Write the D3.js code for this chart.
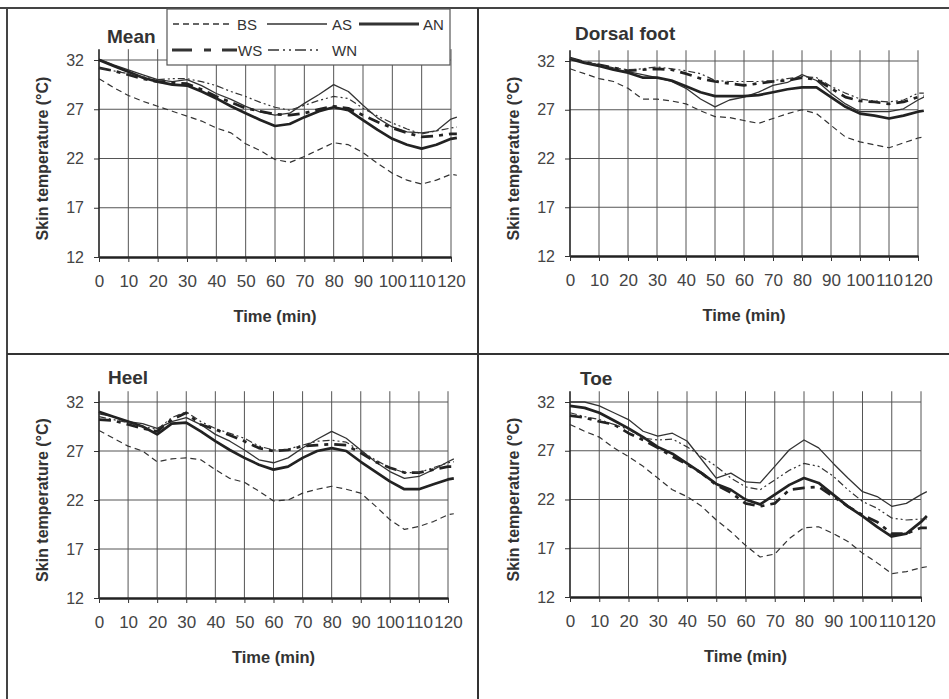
<!DOCTYPE html>
<html>
<head>
<meta charset="utf-8">
<script src="https://cdn.jsdelivr.net/npm/d3@7"></script>
<style>
  body { margin: 0; background: #fff; }
  svg { display: block; font-family: "Liberation Sans", Arial, sans-serif; }
</style>
</head>
<body>
<svg id="fig" width="949" height="699"></svg>
<script>
// time points (min)
var times = [0,5,10,15,20,25,30,35,40,45,50,55,60,65,70,75,80,85,90,95,100,105,110,115,120,122];
var xTicks = [0,10,20,30,40,50,60,70,80,90,100,110,120];
var yTicks = [12,17,22,27,32];
var seriesNames = ["BS","AS","AN","WS","WN"];

// Mean
var meanBS = [30.1,29.2,28.4,27.8,27.3,26.8,26.3,25.8,25.1,24.6,23.5,22.8,21.9,21.6,22.2,22.9,23.6,23.4,22.6,21.5,20.5,19.8,19.4,19.8,20.4,20.3];
var meanAS = [32.1,31.5,31.0,30.5,30.0,29.8,30.0,29.4,28.6,28.0,27.3,26.7,26.4,26.6,27.6,28.5,29.5,28.8,27.4,26.1,25.2,24.7,24.6,24.8,26.0,26.2];
var meanAN = [32.0,31.4,30.8,30.2,29.8,29.5,29.4,28.8,28.1,27.3,26.6,25.9,25.3,25.5,26.2,26.8,27.2,26.9,25.9,24.9,24.0,23.4,23.0,23.4,24.0,24.1];
var meanWS = [31.2,30.9,30.5,30.1,29.8,29.7,29.6,29.0,28.3,27.7,27.1,26.8,26.5,26.4,26.6,27.0,27.3,27.1,26.4,25.7,25.1,24.6,24.2,24.3,24.5,24.5];
var meanWN = [31.2,30.9,30.6,30.3,30.0,30.1,30.1,29.8,29.4,28.8,28.3,27.7,27.2,26.9,27.4,27.9,28.3,28.1,27.1,26.3,25.6,25.0,24.5,24.8,25.1,25.2];

// Dorsal foot
var dorsalBS = [31.2,30.7,30.2,29.9,29.2,28.1,28.1,27.9,27.6,26.9,26.3,26.2,25.9,25.6,26.1,26.6,27.0,26.6,25.4,24.2,23.7,23.4,23.1,23.6,24.1,24.2];
var dorsalAS = [32.3,31.9,31.6,31.2,30.9,30.6,30.3,29.9,29.2,28.1,27.3,28.0,28.3,28.8,29.5,29.8,30.6,30.0,28.7,27.6,26.8,26.8,26.8,27.1,28.0,28.3];
var dorsalAN = [32.2,31.8,31.5,31.1,30.8,30.3,30.3,30.0,29.4,28.8,28.4,28.4,28.4,28.5,28.8,29.1,29.3,29.3,28.3,27.3,26.6,26.4,26.1,26.4,26.8,26.9];
var dorsalWS = [32.3,31.9,31.6,31.3,31.0,31.1,31.2,31.1,30.7,30.2,29.9,29.7,29.5,29.7,29.9,30.0,30.3,30.1,29.2,28.3,27.9,27.8,27.6,27.8,28.3,28.4];
var dorsalWN = [32.3,31.9,31.6,31.3,31.1,31.2,31.4,31.2,31.0,30.7,30.0,29.9,29.9,29.9,30.0,30.2,30.4,30.3,29.4,28.7,28.1,27.9,27.8,28.0,28.7,28.7];

// Heel
var heelBS = [29.1,28.3,27.5,27.0,25.9,26.2,26.3,26.1,25.1,24.2,23.8,22.9,21.9,22.0,22.7,23.1,23.4,23.1,22.7,21.4,20.0,19.0,19.3,19.8,20.5,20.6];
var heelAS = [30.8,30.5,30.0,29.8,29.3,30.0,30.4,29.7,28.7,28.0,27.1,26.1,25.8,26.3,27.3,28.2,29.0,28.3,27.1,25.9,24.9,24.2,24.4,25.1,25.9,26.2];
var heelAN = [31.0,30.5,30.0,29.5,28.7,29.8,29.9,29.0,28.0,27.1,26.3,25.6,25.1,25.4,26.3,27.0,27.3,27.0,25.9,24.9,23.9,23.1,23.1,23.6,24.1,24.2];
var heelWS = [30.2,30.1,29.7,29.3,29.0,30.2,30.9,29.7,29.2,28.6,28.0,27.3,27.0,27.1,27.5,27.6,27.7,27.6,26.8,25.9,25.3,24.8,24.8,25.1,25.4,25.4];
var heelWN = [30.5,30.2,29.9,29.5,29.2,30.4,31.0,30.0,29.3,28.8,28.3,27.5,27.1,27.2,27.6,28.0,28.1,27.9,27.0,26.1,25.3,24.8,24.8,25.3,25.8,25.9];

// Toe
var toeBS = [29.7,29.0,28.4,27.3,26.4,25.4,24.2,23.0,22.3,21.3,19.9,18.7,17.3,16.1,16.4,18.0,19.1,19.2,18.5,17.7,16.5,15.5,14.4,14.6,15.0,15.1];
var toeAS = [32.0,32.0,31.6,30.9,30.2,29.0,28.5,28.8,28.0,26.1,24.2,24.7,23.8,23.7,25.4,27.1,28.1,27.3,25.7,24.2,22.8,22.3,21.3,21.6,22.5,22.8];
var toeAN = [31.6,31.4,30.9,30.1,29.3,28.4,27.4,26.7,25.7,24.7,23.6,23.0,22.0,21.5,22.5,23.5,24.2,23.7,22.5,21.3,20.3,19.2,18.2,18.5,19.7,20.3];
var toeWS = [30.6,30.4,30.0,29.7,28.8,28.1,27.3,26.4,25.6,24.7,23.5,22.7,21.6,21.3,21.6,23.0,23.2,23.3,22.3,21.3,20.4,19.7,18.5,18.5,19.1,19.1];
var toeWN = [30.9,30.5,30.2,29.7,29.2,28.3,28.1,28.2,27.4,26.4,25.4,24.2,23.3,23.0,24.0,25.0,25.7,25.4,24.4,23.0,21.8,21.1,20.1,19.9,20.0,20.0];

var panels = [
  {title: "Mean",        x0: 99,  x1: 451, yTop: 60,  yBot: 257, tdx: 8,  tdy: -17, legend: true,
   series: [meanBS, meanAS, meanAN, meanWS, meanWN]},
  {title: "Dorsal foot", x0: 570, x1: 918, yTop: 61,  yBot: 256, tdx: 5,  tdy: -21,
   series: [dorsalBS, dorsalAS, dorsalAN, dorsalWS, dorsalWN]},
  {title: "Heel",        x0: 99,  x1: 448, yTop: 402, yBot: 598, tdx: 9,  tdy: -18,
   series: [heelBS, heelAS, heelAN, heelWS, heelWN]},
  {title: "Toe",         x0: 570, x1: 921, yTop: 402, yBot: 597, tdx: 10, tdy: -17,
   series: [toeBS, toeAS, toeAN, toeWS, toeWN]}
];

// line styles per series (dash = in plot, ldash = in legend)
var styles = {
  BS: {w: 1.2, dash: "6,4",          ldash: "6,4"},
  AS: {w: 1.3, dash: null,           ldash: null},
  AN: {w: 2.7, dash: null,           ldash: null},
  WS: {w: 2.7, dash: "12,6,4,6",     ldash: "20,12,7,11"},
  WN: {w: 1.2, dash: "7,3,2,3,2,3",  ldash: "11,4,2,4,2,4"}
};

var svg = d3.select("#fig");
var ink = "#333";

// frame lines
svg.append("line").attr("x1", 0).attr("x2", 949).attr("y1", 8).attr("y2", 8).attr("stroke", "#444").attr("stroke-width", 2);
svg.append("line").attr("x1", 7).attr("x2", 7).attr("y1", 8).attr("y2", 699).attr("stroke", "#444").attr("stroke-width", 2);
svg.append("line").attr("x1", 478).attr("x2", 478).attr("y1", 8).attr("y2", 699).attr("stroke", "#333").attr("stroke-width", 2);
svg.append("line").attr("x1", 7).attr("x2", 949).attr("y1", 354).attr("y2", 354).attr("stroke", "#333").attr("stroke-width", 2);

panels.forEach(function(p) {
  var x = d3.scaleLinear().domain([0, 120]).range([p.x0, p.x1]);
  var y = d3.scaleLinear().domain([12, 32]).range([p.yBot, p.yTop]);
  var g = svg.append("g");

  // grid
  g.selectAll(".hgrid").data(yTicks.slice(1)).enter().append("line")
    .attr("x1", x(0)).attr("x2", x(120))
    .attr("y1", function(d) { return y(d); }).attr("y2", function(d) { return y(d); })
    .attr("stroke", "#555").attr("stroke-width", 1);
  g.selectAll(".vgrid").data(xTicks.slice(1)).enter().append("line")
    .attr("x1", function(d) { return x(d); }).attr("x2", function(d) { return x(d); })
    .attr("y1", y(33.1)).attr("y2", y(12))
    .attr("stroke", "#555").attr("stroke-width", 1);

  // axes
  var ya = g.append("g").attr("transform", "translate(" + x(0) + ",0)")
    .call(d3.axisLeft(y).tickValues(yTicks).tickSize(5).tickSizeOuter(0).tickPadding(10));
  ya.select(".domain").remove();
  ya.append("line").attr("x1", 0).attr("x2", 0).attr("y1", y(33.1)).attr("y2", y(12))
    .attr("stroke", "#222").attr("stroke-width", 1.6);

  var xa = g.append("g").attr("transform", "translate(0," + y(12) + ")")
    .call(d3.axisBottom(x).tickValues(xTicks).tickSize(5).tickSizeOuter(0).tickPadding(13));
  xa.select(".domain").attr("stroke", "#222").attr("stroke-width", 2.4);

  [ya, xa].forEach(function(a) {
    a.selectAll(".tick line").attr("stroke", "#333");
    a.selectAll("text").attr("fill", "#444")
      .attr("font-family", "Liberation Sans, Arial, sans-serif");
  });
  ya.selectAll("text").attr("font-size", 16);
  xa.selectAll("text").attr("font-size", 17);

  // series
  var line = d3.line()
    .x(function(d, i) { return x(times[i]); })
    .y(function(d) { return y(d); });
  p.series.forEach(function(vals, k) {
    var st = styles[seriesNames[k]];
    g.append("path").datum(vals)
      .attr("d", line)
      .attr("fill", "none")
      .attr("stroke", k == 2 || k == 3 ? "#222" : ink)
      .attr("stroke-width", st.w)
      .attr("stroke-dasharray", st.dash)
      .attr("stroke-linejoin", "round");
  });

  // titles
  g.append("text").attr("x", x(0) + p.tdx).attr("y", p.yTop + p.tdy)
    .attr("font-size", 19).attr("font-weight", "bold").attr("fill", ink)
    .text(p.title);
  g.append("text").attr("x", (p.x0 + p.x1) / 2).attr("y", p.yBot + 65)
    .attr("text-anchor", "middle").attr("font-size", 16.5).attr("font-weight", "bold").attr("fill", ink)
    .text("Time (min)");
  g.append("text")
    .attr("transform", "translate(" + (p.x0 - 51) + "," + (p.yTop + p.yBot) / 2 + ") rotate(-90)")
    .attr("text-anchor", "middle").attr("font-size", 16).attr("font-weight", "bold").attr("fill", ink)
    .text("Skin temperature (°C)");

  if (p.legend) {
    var lg = svg.append("g");
    lg.append("rect").attr("x", 167).attr("y", 9).attr("width", 283).attr("height", 56)
      .attr("fill", "#fff").attr("stroke", "#555").attr("stroke-width", 1.2);
    // [name, line x1, line x2, text x, row y]
    var items = [
      ["BS", 173, 232, 237, 24],
      ["AS", 267, 327, 332, 24],
      ["AN", 359, 419, 423, 24],
      ["WS", 172, 237, 238, 50],
      ["WN", 268, 322, 332, 50]
    ];
    items.forEach(function(it) {
      var st = styles[it[0]];
      lg.append("line").attr("x1", it[1]).attr("x2", it[2]).attr("y1", it[4]).attr("y2", it[4])
        .attr("stroke", ink).attr("stroke-width", st.w + 0.3).attr("stroke-dasharray", st.ldash);
      lg.append("text").attr("x", it[3]).attr("y", it[4] + 5.5)
        .attr("font-size", 15).attr("fill", ink).text(it[0]);
    });
  }
});
</script>
</body>
</html>
